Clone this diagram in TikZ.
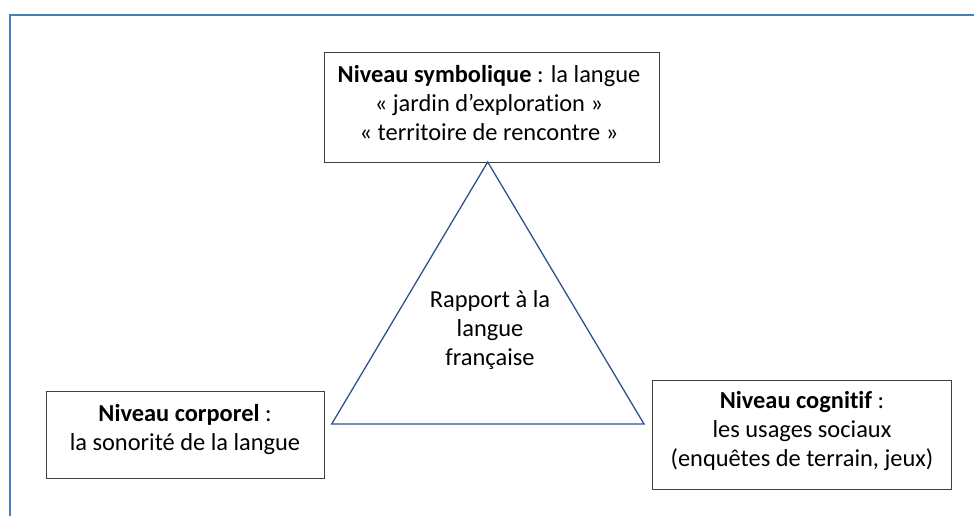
\documentclass[tikz,border=0pt]{standalone}
\usepackage{fontspec}
\setmainfont[Ligatures=NoCommon]{Carlito}
\definecolor{framecol}{HTML}{4A7EBB}
\definecolor{tricol}{HTML}{2F528F}
\definecolor{boxcol}{HTML}{404040}
\begin{document}
\begin{tikzpicture}[x=1pt,y=-1pt,
  txt/.style={font=\fontsize{24.4}{29}\selectfont, align=center, inner sep=0pt},
  box/.style={draw=boxcol, line width=0.9pt, rectangle, inner sep=0pt}]
\useasboundingbox (0,0) rectangle (974,515);
\draw[framecol, line width=1.6pt] (10,520) -- (10,15) -- (980,15);
% boxes
\node[box, minimum width=335pt, minimum height=110pt] (sym) at (491.5,107) {};
\node[box, minimum width=278pt, minimum height=87pt] (corp) at (185,435) {};
\node[box, minimum width=299pt, minimum height=109pt] (cog) at (802,435.3) {};
% texts
\node[txt] (symt) at (489,103) {\textbf{Niveau symbolique} : la langue\\« jardin d’exploration »\\« territoire de rencontre »};
\node[txt] (corpt) at (185,430) {\textbf{Niveau corporel} :\\la sonorité de la langue};
\node[txt] (cogt) at (802,431.5) {\textbf{Niveau cognitif} :\\les usages sociaux\\(enquêtes de terrain, jeux)};
% triangle
\coordinate (apex) at (487.7,162);
\coordinate (bl) at (331.7,424);
\coordinate (br) at (644,424);
\draw[tricol, line width=1.3pt, line join=miter] (apex) -- (bl) -- (br) -- cycle;
\node[txt] (rap) at (490,330) {Rapport à la\\langue\\française};
\end{tikzpicture}
\end{document}
